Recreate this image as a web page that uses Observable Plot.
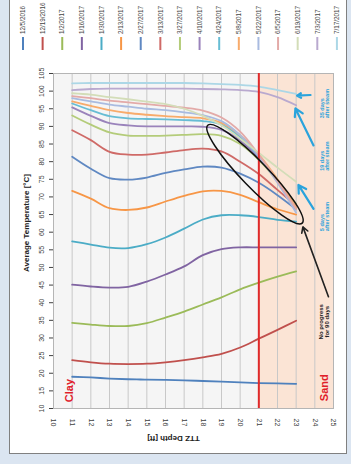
<!DOCTYPE html>
<html><head><meta charset="utf-8">
<script src="https://cdn.jsdelivr.net/npm/d3@7"></script>
<script src="https://cdn.jsdelivr.net/npm/@observablehq/plot@0.6"></script>
<style>
html,body{margin:0;padding:0;background:#dbe5f1;width:351px;height:464px;overflow:hidden;font-family:"Liberation Sans",Arial,sans-serif;}
#wrap{position:relative;width:351px;height:464px;}
#panel{position:absolute;left:9px;top:-3px;width:338px;height:457px;background:#fff;border:1.5px solid #808080;box-sizing:border-box;}
#chart{position:absolute;left:0;top:0;}
</style></head><body>
<div id="wrap"><div id="panel"></div><div id="chart"></div></div>
<script>
// ---- data ----
const depths = [11, 12, 13, 14, 15, 16, 17, 18, 19, 20, 21, 22, 23];
const dates = ["12/5/2016","12/19/2016","1/2/2017","1/16/2017","1/30/2017","2/13/2017","2/27/2017","3/13/2017","3/27/2017","4/10/2017","4/24/2017","5/8/2017","5/22/2017","6/5/2017","6/19/2017","7/3/2017","7/17/2017"];
const colors = ["#4f81bd","#c0504d","#9bbb59","#8064a2","#4bacc6","#f79646","#5f88c2","#cf6a67","#b4cc7a","#9a83bb","#67bdd4","#f8ab6b","#a9bbe0","#e3aaa8","#d3ddb8","#b9a9cf","#acd7e6"];
const t_12_05 = [19, 18.8, 18.5, 18.3, 18.2, 18.1, 18, 17.8, 17.6, 17.4, 17.2, 17.1, 17];
const t_12_19 = [23.7, 23.1, 22.7, 22.6, 22.7, 23.1, 23.7, 24.5, 25.5, 27.3, 29.8, 32.3, 34.9];
const t_01_02 = [34.3, 33.8, 33.4, 33.4, 34.2, 35.8, 37.5, 39.5, 41.5, 43.8, 45.7, 47.4, 48.9];
const t_01_16 = [45.1, 44.6, 44.3, 44.5, 46, 48, 50.3, 53.5, 55.2, 55.7, 55.7, 55.7, 55.7];
const t_01_30 = [57.4, 56.5, 55.6, 55.5, 56.6, 58.5, 61, 63.6, 64.8, 64.8, 64.3, 63.5, 63];
const t_02_13 = [71.7, 69.5, 66.8, 66.3, 67, 68.7, 70.3, 71.6, 71.7, 70.6, 68.5, 66.5, 65];
const t_02_27 = [81.4, 78, 75.3, 74.9, 75.5, 76.8, 77.8, 78.6, 78.3, 76.6, 74, 70.5, 66.5];
const t_03_13 = [88.9, 86.1, 82.8, 82, 82, 82.6, 83.3, 83.7, 82.9, 80, 76.5, 72, 67.5];
const t_03_27 = [93.1, 90.5, 88.3, 87.4, 87.3, 87.4, 87.6, 87.8, 87.3, 85, 80.5, 74.5, 68];
const t_04_10 = [95.4, 93, 90.9, 90.3, 90, 90, 90, 89.9, 89, 86, 81, 74.5, 67];
const t_04_24 = [96.5, 94.6, 92.9, 92.3, 92.1, 92, 91.8, 91.5, 90.5, 87, 81.5, 74.5, 66.5];
const t_05_08 = [97.1, 95.8, 94.6, 93.8, 93.3, 92.9, 92.6, 92.3, 91, 87.5, 82, 75, 67];
const t_05_22 = [98, 97.1, 96.2, 95.6, 95, 94.6, 94, 93.2, 91.5, 87.5, 81.5, 74, 65.5];
const t_06_05 = [98.6, 98, 97.3, 96.8, 96.3, 95.8, 95.3, 94.5, 92.5, 88.5, 82, 74.5, 66.5];
const t_06_19 = [99.4, 99, 98.3, 97.7, 97, 96.3, 95, 93, 90.3, 86.5, 82.5, 78.3, 74.3];
const t_07_03 = [100.3, 100.6, 100.7, 100.7, 100.7, 100.7, 100.7, 100.6, 100.5, 100.3, 99.8, 98.3, 96];
const t_07_17 = [102.2, 102.3, 102.3, 102.3, 102.3, 102.3, 102.3, 102.2, 102, 101.8, 101.3, 100.3, 99.2];
const depthTicks = [10, 11, 12, 13, 14, 15, 16, 17, 18, 19, 20, 21, 22, 23, 24, 25];
const tempTicks = [10, 15, 20, 25, 30, 35, 40, 45, 50, 55, 60, 65, 70, 75, 80, 85, 90, 95, 100, 105];
const clayDepth = 21;   // clay/sand boundary
const sandEnd = 25;
const soilLabels = [{label: "Clay", depth: 10.83, temp: 15.1}, {label: "Sand", depth: 24.52, temp: 15.9}];
const steamNotes = [
  {text: "35 days\nafter steam", depth: 24.52, temp: 92.3},
  {text: "19 days\nafter steam", depth: 24.52, temp: 77.4},
  {text: "5 days\nafter steam", depth: 24.52, temp: 60.3}
];
const steamArrows = [
  {x1: 23.77, y1: 98.9, x2: 23.05, y2: 98.7},
  {x1: 23.93, y1: 84.6, x2: 22.96, y2: 95.1},
  {x1: 23.93, y1: 66.6, x2: 23.12, y2: 73.4}
];
const progressNote = [{text: "No progress\nfor 90 days", depth: 24.49, temp: 34.6}];
const progressArrow = [{x1: 24.73, y1: 41.7, x2: 23.36, y2: 61.5}];
const bundle = {depth: 20.82, temp: 76.3};

// ---- build table ----
const series = [t_12_05, t_12_19, t_01_02, t_01_16, t_01_30, t_02_13, t_02_27, t_03_13, t_03_27, t_04_10, t_04_24, t_05_08, t_05_22, t_06_05, t_06_19, t_07_03, t_07_17];
const rows = [];
series.forEach((s, i) => s.forEach((v, j) => rows.push({date: dates[i], depth: depths[j], temp: v})));

const font = "Liberation Sans, Arial, sans-serif";
const chart = Plot.plot({
  width: 351, height: 464,
  marginLeft: 53, marginRight: 18, marginTop: 73, marginBottom: 56,
  style: {background: "transparent", fontFamily: font, overflow: "visible", color: "#404040"},
  x: {domain: [10, 25], axis: null},
  y: {domain: [10, 105], axis: "left", ticks: tempTicks, tickSize: 4, tickFormat: () => "", label: null},
  color: {domain: dates, range: colors},
  marks: [
    Plot.frame({fill: "#f5f5f5"}),
    Plot.rect([{a: clayDepth, b: sandEnd}], {x1: "a", x2: "b", fill: "#fbe4d5"}),
    Plot.ruleX(depthTicks.slice(1, -1), {stroke: "#c8c8c8", strokeWidth: 1}),
    Plot.frame({stroke: "#b5b5b5"}),
    Plot.line(rows, {x: "depth", y: "temp", z: "date", stroke: "date", strokeWidth: 1.8, curve: "catmull-rom"}),
    Plot.ruleX([clayDepth], {stroke: "#e02a2a", strokeWidth: 2}),
    Plot.text(tempTicks, {y: d => d, text: d => String(d), frameAnchor: "left", textAnchor: "middle", lineAnchor: "middle", rotate: -90, dx: -12, fontSize: 7, fill: "#404040"}),
    Plot.text(depthTicks, {x: d => d, text: d => String(d), frameAnchor: "bottom", textAnchor: "middle", lineAnchor: "middle", rotate: 90, dy: 14, fontSize: 7, fill: "#404040"}),
    Plot.text(["Average Temperature [°C]"], {frameAnchor: "left", textAnchor: "middle", lineAnchor: "middle", rotate: -90, dx: -27, dy: -18, fontSize: 8, fontWeight: "bold", fill: "#222"}),
    Plot.text(["TTZ Depth [ft]"], {frameAnchor: "bottom", textAnchor: "middle", lineAnchor: "middle", rotate: 180, dx: -20, dy: 30, fontSize: 8, fontWeight: "bold", fill: "#222"}),
    Plot.text(soilLabels, {x: "depth", y: "temp", text: "label", rotate: -90, textAnchor: "middle", lineAnchor: "middle", fill: "#e0202a", fontWeight: "bold", fontSize: 11}),
    Plot.arrow(steamArrows, {x1: "x1", y1: "y1", x2: "x2", y2: "y2", stroke: "#2aa3dc", strokeWidth: 2.2, headLength: 6}),
    Plot.text(steamNotes, {x: "depth", y: "temp", text: "text", rotate: -90, textAnchor: "start", lineAnchor: "middle", fontSize: 5.5, fill: "#2aa3dc", fontWeight: "bold"}),
    Plot.arrow(progressArrow, {x1: "x1", y1: "y1", x2: "x2", y2: "y2", stroke: "#222", strokeWidth: 1.6, headLength: 6}),
    Plot.text(progressNote, {x: "depth", y: "temp", text: "text", rotate: -90, textAnchor: "middle", lineAnchor: "middle", fontSize: 6, fill: "#222", fontWeight: "bold"})
  ]
});
document.getElementById("chart").appendChild(chart);

// ellipse around the converging bundle, placed through the plot's scales
const sx = chart.scale("x"), sy = chart.scale("y");
const px = v => sx.range[0] + (v - sx.domain[0]) / (sx.domain[1] - sx.domain[0]) * (sx.range[1] - sx.range[0]);
const py = v => sy.range[0] + (v - sy.domain[0]) / (sy.domain[1] - sy.domain[0]) * (sy.range[1] - sy.range[0]);
const svg = d3.select(chart);
const cx = px(bundle.depth), cy = py(bundle.temp);
svg.append("ellipse").attr("cx", cx).attr("cy", cy).attr("rx", 68).attr("ry", 13)
  .attr("transform", `rotate(46 ${cx} ${cy})`)
  .attr("fill", "none").attr("stroke", "#111").attr("stroke-width", 1.5);

// legend
const lg = svg.append("g");
dates.forEach((d, i) => {
  const x = 23 + i * 19.62;
  lg.append("line").attr("x1", x).attr("x2", x).attr("y1", 37).attr("y2", 50)
    .attr("stroke", colors[i]).attr("stroke-width", 2);
  lg.append("text").attr("transform", `translate(${x},34) rotate(-90)`)
    .attr("dy", "0.35em").attr("text-anchor", "start")
    .attr("font-size", 6.3).attr("fill", "#444").attr("font-family", font).text(d);
});
</script>
</body></html>
